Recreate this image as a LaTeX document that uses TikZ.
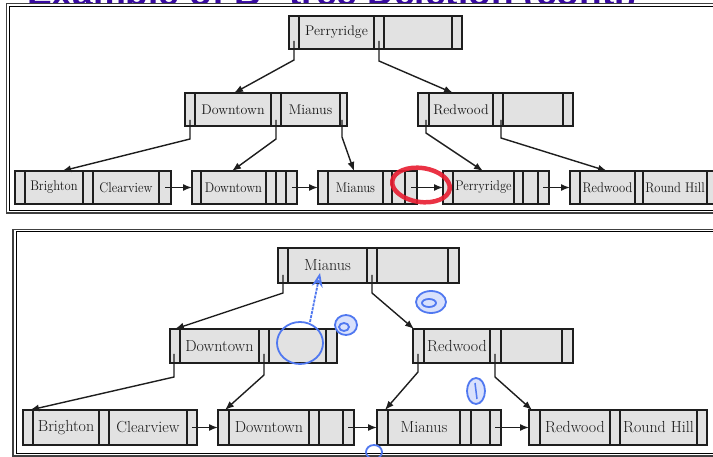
\documentclass[tikz,border=0pt]{standalone}
\usepackage{fontspec}
\newfontfamily\titlefont{Liberation Sans}
\usetikzlibrary{arrows.meta,calc}
\definecolor{boxfill}{RGB}{226,226,226}
\definecolor{boxline}{RGB}{30,30,30}
\definecolor{titlecol}{RGB}{55,10,160}
\definecolor{pen}{RGB}{80,120,240}
\definecolor{marker}{RGB}{232,28,48}
\tikzset{
  bpbox/.style={draw=boxline, fill=boxfill, line width=1.4pt, inner sep=0pt, outer sep=0pt},
  bpline/.style={draw=boxline, line width=1.4pt},
  arr/.style={draw=boxline, line width=1.4pt, -{Latex[length=9pt,width=7pt]}},
  frameout/.style={draw=black!75, line width=1.3pt},
  framein/.style={draw=black, line width=1pt},
  toptext/.style={inner sep=0pt, text=black!90, font=\fontsize{14}{16}\selectfont},
  bottext/.style={inner sep=0pt, text=black!90, font=\fontsize{16}{18}\selectfont},
  penline/.style={draw=pen, line width=1.8pt},
  penblob/.style={draw=pen, line width=1.8pt, fill=pen!22},
}
\newcommand\bpnode[6]{%
  \pgfmathsetmacro\bpw{#3-#2}\pgfmathsetmacro\bph{#5-#4}%
  \node[bpbox, anchor=north west, minimum width=\bpw pt, minimum height=\bph pt] (#1) at (#2,#4) {};
  \foreach \d in {#6} \draw[bpline] (\d,#4) -- (\d,#5);
}
\newcommand\lf[1]{\scalebox{0.9}[1]{#1}}
\begin{document}
\begin{tikzpicture}[x=1pt,y=-1pt]
\useasboundingbox (0,0) rectangle (713,457);
\clip (0,0) rectangle (713,457);
% title (mostly cut off)
\node[anchor=base west, inner sep=0pt, text=titlecol, font=\titlefont\bfseries\fontsize{37}{40}\selectfont] (title) at (27,5.5) {Example of B\textsuperscript{+}-tree Deletion (cont.)};
% panel frames
\draw[frameout, fill=white] (6.5,3.5) rectangle (730,213);
\draw[framein] (9.5,6.5) rectangle (730,210.5);
\draw[frameout, fill=white] (13,229.5) rectangle (730,456);
\draw[framein] (16,232) rectangle (730,453);

%%%%%%%% TOP PANEL %%%%%%%%
\bpnode{T0}{289}{462}{16}{49}{299,374,384,452}
\node[toptext] (T0k1) at (336.5,32.5) {Perryridge};
\bpnode{T1}{185}{347}{93}{126}{195,271,281,340}
\node[toptext] (T1k1) at (233,109.5) {Downtown};
\node[toptext] (T1k2) at (310.5,109.5) {Mianus};
\bpnode{T2}{418}{573}{93}{126}{429,493,503,563}
\node[toptext] (T2k1) at (461,109.5) {Redwood};
% leaves
\bpnode{L1}{15}{171}{171}{204}{25,83,93,159}
\node[toptext] (L1k1) at (54,187.5) {\lf{Brighton}};
\node[toptext] (L1k2) at (126,187.5) {\lf{Clearview}};
\bpnode{L2}{192}{297}{171}{204}{201,266,276,286}
\node[toptext] (L2k1) at (233.5,187.5) {\lf{Downtown}};
\bpnode{L3}{318}{417}{171}{204}{328,383,392,405}
\node[toptext] (L3k1) at (355.5,187.5) {\lf{Mianus}};
\bpnode{L4}{443}{549}{171}{204}{453,514,523,538}
\node[toptext] (L4k1) at (483.5,187.5) {\lf{Perryridge}};
\bpnode{L5}{570}{720}{171}{204}{580,635,643,707}
\node[toptext] (L5k1) at (607.5,187.5) {\lf{Redwood}};
\node[toptext] (L5k2) at (675,187.5) {\lf{Round Hill}};
% tree pointers
\coordinate (T0p1) at (294,41); \coordinate (T0b1) at (294,60); \coordinate (T1in) at (234,93);
\coordinate (T0p2) at (379,41); \coordinate (T0b2) at (379,61); \coordinate (T2in) at (453,93);
\draw[arr] (T0p1) -- (T0b1) -- (T1in);
\draw[arr] (T0p2) -- (T0b2) -- (T2in);
\coordinate (T1p1) at (190,120); \coordinate (T1b1) at (190,139); \coordinate (L1in) at (62,171);
\coordinate (T1p2) at (276,120); \coordinate (T1b2) at (276,139); \coordinate (L2in) at (232,171);
\coordinate (T1p3) at (342,120); \coordinate (T1b3) at (342,137); \coordinate (L3in) at (354,171);
\draw[arr] (T1p1) -- (T1b1) -- (L1in);
\draw[arr] (T1p2) -- (T1b2) -- (L2in);
\draw[arr] (T1p3) -- (T1b3) -- (L3in);
\coordinate (T2p1) at (426,120); \coordinate (T2b1) at (426,133); \coordinate (L4in) at (483,171);
\coordinate (T2p2) at (501,120); \coordinate (T2b2) at (501,138); \coordinate (L5in) at (607,171);
\draw[arr] (T2p1) -- (T2b1) -- (L4in);
\draw[arr] (T2p2) -- (T2b2) -- (L5in);
% leaf chain
\coordinate (L1n) at (165,187.5); \coordinate (L2n) at (292,187.5);
\coordinate (L3n) at (411,187.5); \coordinate (L4n) at (543,187.5);
\draw[arr] (L1n) -- (L2.west);
\draw[arr] (L2n) -- (L3.west);
\draw[arr] (L3n) -- (L4.west);
\draw[arr] (L4n) -- (L5.west);
% red marker circle
\draw[marker, line width=4.5pt, opacity=0.9, rotate around={-8:(421,185)}] (421,185) ellipse [x radius=29, y radius=17];

%%%%%%%% BOTTOM PANEL %%%%%%%%
\bpnode{B0}{278}{459}{248}{283}{288,367,377,448}
\node[bottext] (B0k1) at (327.5,265.5) {Mianus};
\bpnode{B1}{170}{337}{329}{363}{180,259,269,326}
\node[bottext] (B1k1) at (219.5,346) {Downtown};
\bpnode{B2}{413}{573}{329}{363}{424,490,501,562}
\node[bottext] (B2k1) at (457,346) {Redwood};
\bpnode{BL1}{23}{197}{410}{445}{33,99,109,187}
\node[bottext] (BL1k1) at (66,427.5) {Brighton};
\node[bottext] (BL1k2) at (148,427.5) {Clearview};
\bpnode{BL2}{218}{354}{410}{445}{229,309,319,343}
\node[bottext] (BL2k1) at (269,427.5) {Downtown};
\bpnode{BL3}{377}{501}{410}{445}{388,460,471,490}
\node[bottext] (BL3k1) at (424,427.5) {Mianus};
\bpnode{BL4}{529}{707}{410}{445}{540,610,620,697}
\node[bottext] (BL4k1) at (575,427.5) {Redwood};
\node[bottext] (BL4k2) at (658.5,427.5) {Round Hill};
% tree pointers
\coordinate (B0p1) at (283,275); \coordinate (B0b1) at (283,293); \coordinate (B1in) at (175,329);
\coordinate (B0p2) at (372,275); \coordinate (B0b2) at (372,293); \coordinate (B2in) at (414,329);
\draw[arr] (B0p1) -- (B0b1) -- (B1in);
\draw[arr] (B0p2) -- (B0b2) -- (B2in);
\coordinate (B1p1) at (174,354); \coordinate (B1b1) at (174,377); \coordinate (BL1in) at (30,410);
\coordinate (B1p2) at (264,354); \coordinate (B1b2) at (264,375); \coordinate (BL2in) at (225,410);
\draw[arr] (B1p1) -- (B1b1) -- (BL1in);
\draw[arr] (B1p2) -- (B1b2) -- (BL2in);
\coordinate (B2p1) at (418,354); \coordinate (B2b1) at (418,372); \coordinate (BL3in) at (385,410);
\coordinate (B2p2) at (495,354); \coordinate (B2b2) at (495,377); \coordinate (BL4in) at (532,410);
\draw[arr] (B2p1) -- (B2b1) -- (BL3in);
\draw[arr] (B2p2) -- (B2b2) -- (BL4in);
% leaf chain
\coordinate (BL1n) at (192,427.5); \coordinate (BL2n) at (348,427.5); \coordinate (BL3n) at (495,427.5);
\draw[arr] (BL1n) -- (BL2.west);
\draw[arr] (BL2n) -- (BL3.west);
\draw[arr] (BL3n) -- (BL4.west);
% blue handwritten marks
\draw[penline] (300,343) ellipse [x radius=23, y radius=21];
\coordinate (penA) at (310,322); \coordinate (penB) at (320,273);
\draw[penline, dash pattern=on 3pt off 1pt, -{Stealth[length=14pt,width=11pt,open]}] (penA) -- (penB);
\draw[penblob] (346,325) ellipse [x radius=11, y radius=10];
\draw[penline] (344,327) ellipse [x radius=5, y radius=4];
\draw[penblob] (431,302) ellipse [x radius=15, y radius=11];
\draw[penline] (429,303) ellipse [x radius=7, y radius=4];
\draw[penblob] (476,391) ellipse [x radius=9, y radius=13];
\draw[pen, line width=1.5pt] (475,383) -- (477,399);
\draw[penline] (374,452) ellipse [x radius=8, y radius=7];
\end{tikzpicture}
\end{document}
